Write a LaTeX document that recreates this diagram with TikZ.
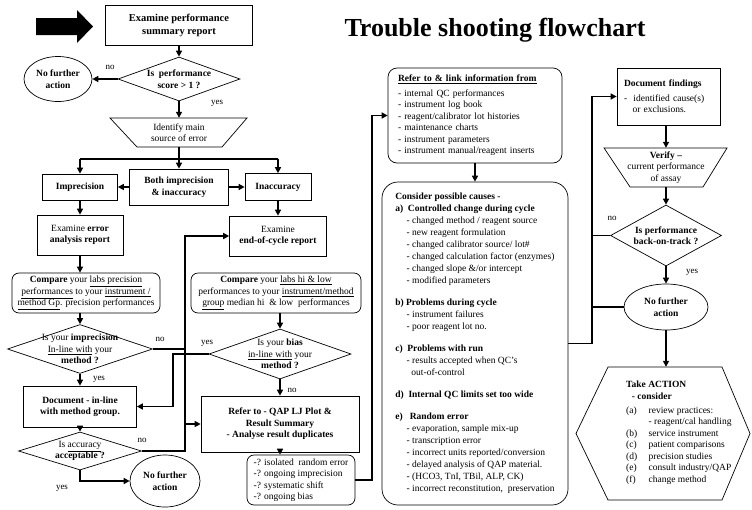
\documentclass[tikz,border=0pt]{standalone}
\usepackage{fontspec}
\setmainfont{Liberation Serif}
\usetikzlibrary{shapes.geometric,arrows.meta}

\newcommand{\ind}{\hspace*{1.2em}}

\tikzset{
  >={Triangle[length=6pt,width=6pt]},
  txt/.style={align=center, inner sep=1pt, font=\fontsize{9.5}{11.5}\selectfont},
  btxt/.style={txt, font=\fontsize{9.5}{11.5}\selectfont\bfseries},
  box/.style={draw, line width=0.7pt, btxt},
  nbox/.style={draw, line width=0.7pt, txt},
  rbox/.style={nbox, rounded corners=7pt},
  dia/.style={draw, diamond, line width=0.7pt, inner sep=0pt},
  oval/.style={draw, ellipse, line width=0.7pt, btxt, inner sep=0pt},
  outline/.style={line width=0.7pt},
  conn/.style={->, line width=1.6pt},
  thin conn/.style={line width=1.1pt},
  lbl/.style={font=\fontsize{9}{10}\selectfont},
}

\begin{document}
\begin{tikzpicture}[x=1pt,y=-1pt]
\useasboundingbox (0,0) rectangle (752,509);

% 标题
\node[font=\fontsize{26}{30}\selectfont\bfseries] (title) at (495,30) {Trouble shooting flowchart};

% 起点箭头
\fill (36,18) -- (77,18) -- (77,10) -- (93,26.5) -- (77,43) -- (77,35) -- (36,35) -- cycle;

% 总体表现
\node[box, font=\fontsize{10.5}{13}\selectfont\bfseries, minimum width=147, minimum height=40] (start) at (179,25) {Examine performance\\summary report};
\node[dia, minimum width=122, minimum height=44] (perf) at (179,79) {};
\node[btxt] (perftxt) at (179,79) {Is\ \ performance\\score > 1 ?};
\node[oval, minimum width=68, minimum height=45] (stop1) at (58,79) {No further\\action};
\draw[outline] (110,118) -- (247,118) -- (222,147) -- (137,147) -- cycle;
\node[txt, minimum height=29, inner sep=0pt] (source) at (179,132.5) {Identify main\\source of error};
\coordinate (split) at (179,159);

\draw[conn] (start) -- (perf);
\draw[conn] (perf) -- (stop1);
\draw[conn] (perf) -- (source);
\node[lbl] (no1) at (110,67) {no};
\node[lbl] (yes1) at (217,103) {yes};

% 误差类型
\node[box, minimum width=75, minimum height=26] (impr) at (80,187) {Imprecision};
\node[box, minimum width=99, minimum height=36] (both) at (179,187) {Both imprecision\\\& inaccuracy};
\node[box, minimum width=66, minimum height=27] (inacc) at (278,187) {Inaccuracy};
\draw[line width=1.6pt] (split -| impr) -- (split -| inacc);
\draw[conn] (source) -- (both);
\draw[conn] (split -| impr) -- (impr);
\draw[conn] (split -| inacc) -- (inacc);
\draw[conn] (both) -- (impr);
\draw[conn] (both) -- (inacc);

% 报告
\node[nbox, minimum width=86, minimum height=40] (errrep) at (80,235) {Examine \textbf{error}\\\textbf{analysis report}};
\node[nbox, minimum width=97, minimum height=40] (cycrep) at (278,236) {Examine\\\textbf{end-of-cycle report}};
\draw[conn] (impr) -- (errrep);
\draw[conn] (inacc) -- (cycrep);

% 比较
\node[rbox, minimum width=148, minimum height=40] (cmpL) at (86,293) {\textbf{Compare} your \underline{labs precision}\\\underline{performances} to your \underline{instrument /}\\\underline{method Gp}. precision performances};
\node[rbox, minimum width=170, minimum height=40] (cmpR) at (276,293) {\textbf{Compare} your \underline{labs hi \& low}\\performances to your \underline{instrument/method}\\\underline{group} median hi\ \ \& low\ \ performances};
\draw[conn] (errrep.south) -- (errrep.south |- cmpL.north);

% 判断
\node[dia, minimum width=145, minimum height=49] (qL) at (80,349) {};
\node[txt] (qLtxt) at (80,349) {Is your \textbf{imprecision}\\\underline{In-line with} your\\\textbf{method ?}};
\node[dia, minimum width=142, minimum height=50] (qR) at (280,354) {};
\node[txt] (qRtxt) at (280,354) {Is your \textbf{bias}\\\underline{in-line with} your\\\textbf{method ?}};
\draw[conn] (cmpL.south -| qL.north) -- (qL.north);
\draw[conn] (cmpR.south -| qR.north) -- (qR.north);

\node[box, minimum width=113, minimum height=41] (doc) at (80,406.5) {Document - in-line\\with method group.};
\node[box, minimum width=158, minimum height=56] (qap) at (280,424) {Refer to - QAP LJ Plot \&\\Result Summary\\- Analyse result duplicates};
\draw[conn] (qL) -- (doc);
\draw[conn] (qR) -- (qap);
\node[lbl] (yes2) at (99,379) {yes};
\node[lbl] (no2) at (160,339) {no};
\node[lbl] (yes3) at (207,343) {yes};
\node[lbl] (no3) at (292,390) {no};

\node[dia, minimum width=123, minimum height=38] (qA) at (80,451) {};
\node[txt] (qAtxt) at (80,451) {Is \underline{accuracy}\\\textbf{acceptable ?}};
\node[oval, minimum width=70, minimum height=52] (stop2) at (165,481) {No further\\action};
\node[rbox, minimum width=108, minimum height=50, align=left] (checks) at (301,480) {-? isolated\ \ random error\\-? ongoing imprecision\\-? systematic shift\\-? ongoing bias};
\draw[conn] (doc) -- (qA);
\draw[conn] (qA.south) |- (stop2.west);
\draw[conn] (qap.south) -- (qap.south |- checks.north);
\node[lbl] (no4) at (142,440) {no};
\node[lbl] (yes4) at (62,488) {yes};

% 交叉连线
\coordinate (busA) at (185,0);
\coordinate (busY) at (173,0);
\coordinate (busB) at (372,0);
\coordinate (busC) at (592,0);
\draw[thin conn, ->] (qL.east) -- (qL.east -| busA) -- (qap.west -| busA) -- (qap.west);
\draw[conn] (qA.east) -- (qA.east -| busA) -- (cycrep.west -| busA) -- (cycrep.west);
\draw[conn] (qR.west) -- (qR.west -| busY) -- (doc.east -| busY) -- (doc.east);

% 原因分析
\node[rbox, rounded corners=9pt, minimum height=95, align=left, inner xsep=10pt, text width=154] (refer) at (475,115.5) {\textbf{\underline{Refer to \& link information from}}\\[3pt]- internal QC performances\\- instrument log book\\- reagent/calibrator lot histories\\- maintenance charts\\- instrument parameters\\- instrument manual/reagent inserts};
\node[rbox, rounded corners=16pt, minimum width=186, minimum height=323, align=left, font=\fontsize{9.5}{12}\selectfont] (consider) at (475,343.5) {\textbf{Consider possible causes -}\\
\textbf{a)\ \ Controlled change during cycle}\\
\ind - changed method / reagent source\\
\ind - new reagent formulation\\
\ind - changed calibrator source/ lot\#\\
\ind - changed calculation factor (enzymes)\\
\ind - changed slope \&/or intercept\\
\ind - modified parameters\\[10pt]
\textbf{b) Problems during cycle}\\
\ind - instrument failures\\
\ind - poor reagent lot no.\\[10pt]
\textbf{c)\ \ Problems with run}\\
\ind - results accepted when QC's\\
\ind\ \ out-of-control\\[10pt]
\textbf{d)\ \ Internal QC limits set too wide}\\[10pt]
\textbf{e)\ \ \ Random error}\\
\ind - evaporation, sample mix-up\\
\ind - transcription error\\
\ind - incorrect units reported/conversion\\
\ind - delayed analysis of QAP material.\\
\ind - (HCO3, TnI, TBil, ALP, CK)\\
\ind - incorrect reconstitution,\ \ preservation};
\draw[conn] (checks.east) -- (checks.east -| busB) -- (refer.west -| busB) -- (refer.west);
\draw[conn] (refer) -- (consider);

% 结论与行动
\node[nbox, minimum height=57, align=left, inner xsep=7pt, text width=89] (findings) at (668.5,96.5) {\textbf{Document findings}\\[3pt]-\ \ identified cause(s)\\\hspace*{0.9em}or exclusions.};
\draw[outline] (604,148) -- (727,148) -- (703,187) -- (630,187) -- cycle;
\node[txt, minimum height=39, inner sep=0pt] (verify) at (666,167.5) {\textbf{Verify --}\\current performance\\of assay};
\node[dia, minimum width=111, minimum height=61] (track) at (666,235.5) {};
\node[btxt] (tracktxt) at (666,235.5) {Is performance\\back-on-track ?};
\node[oval, minimum width=84, minimum height=46] (stop3) at (666,307) {No further\\action};
\draw[outline] (608,367) -- (722,367) -- (750,433.5) -- (722,500) -- (608,500) -- (576,433.5) -- cycle;
\node[txt, align=left, minimum height=133, inner sep=0pt, anchor=west] (action) at (626,433.5) {\textbf{Take ACTION}\\\hspace*{0.6em}\textbf{- consider}\\[5pt]
\begin{tabular}{@{}l@{\hspace{1.2em}}l@{}}
(a) & review practices:\\
    & - reagent/cal handling\\
(b) & service instrument\\
(c) & patient comparisons\\
(d) & precision studies\\
(e) & consult industry/QAP\\
(f) & change method
\end{tabular}};
\draw[conn] (findings.south -| verify.north) -- (verify.north);
\draw[conn] (verify) -- (track);
\draw[conn] (track) -- (stop3);
\draw[conn] (stop3) -- (stop3 |- action.north);
\draw[conn] (consider.east) -- (consider.east -| busC) -- (findings.west -| busC) -- (findings.west);
\draw[thin conn] (track.west) -- (track.west -| busC);
\draw[line width=1.6pt] (stop3.west) -- (stop3.west -| busC);
\node[lbl] (no5) at (612,218) {no};
\node[lbl] (yes5) at (692,272) {yes};
\end{tikzpicture}
\end{document}
